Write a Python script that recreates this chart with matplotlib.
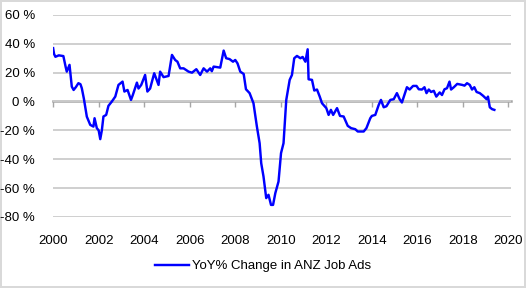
import matplotlib
matplotlib.use("Agg")
import matplotlib.pyplot as plt

plt.rcParams['font.family'] = ['Liberation Sans', 'DejaVu Sans']

# decimal year, YoY % change
years = [2000.00, 2000.04, 2000.10, 2000.25, 2000.45, 2000.55, 2000.60, 2000.72, 2000.82, 2000.90,
         2001.00, 2001.11, 2001.20, 2001.26, 2001.35, 2001.48, 2001.63, 2001.77, 2001.82, 2001.92,
         2002.00, 2002.07, 2002.14, 2002.21, 2002.33, 2002.43, 2002.58, 2002.73, 2002.87, 2003.05,
         2003.13, 2003.27, 2003.42, 2003.50, 2003.68, 2003.75, 2003.87, 2004.04, 2004.14, 2004.26,
         2004.44, 2004.63, 2004.70, 2004.85, 2005.07, 2005.22, 2005.36, 2005.46, 2005.58, 2005.73,
         2005.95, 2006.10, 2006.29, 2006.46, 2006.61, 2006.76, 2006.90, 2006.97, 2007.05, 2007.34,
         2007.49, 2007.60, 2007.75, 2007.90, 2008.00, 2008.10, 2008.22, 2008.37, 2008.47, 2008.63,
         2008.80, 2008.95, 2009.07, 2009.14, 2009.24, 2009.36, 2009.46, 2009.57, 2009.66, 2009.76,
         2009.90, 2010.01, 2010.12, 2010.24, 2010.39, 2010.49, 2010.59, 2010.71, 2010.86, 2010.96,
         2011.08, 2011.18, 2011.22, 2011.37, 2011.47, 2011.59, 2011.71, 2011.81, 2012.00, 2012.10,
         2012.20, 2012.30, 2012.47, 2012.60, 2012.76, 2012.94, 2013.09, 2013.27, 2013.38, 2013.64,
         2013.76, 2013.93, 2014.00, 2014.15, 2014.30, 2014.40, 2014.52, 2014.64, 2014.81, 2014.96,
         2015.10, 2015.22, 2015.32, 2015.54, 2015.66, 2015.81, 2015.96, 2016.06, 2016.20, 2016.31,
         2016.40, 2016.50, 2016.60, 2016.72, 2016.83, 2016.98, 2017.08, 2017.19, 2017.30, 2017.41,
         2017.48, 2017.60, 2017.75, 2017.97, 2018.07, 2018.18, 2018.30, 2018.40, 2018.50, 2018.60,
         2018.74, 2018.89, 2019.04, 2019.10, 2019.18, 2019.28, 2019.38]
yoy = [37.0, 33.0, 31.0, 32.0, 31.5, 24.0, 20.7, 25.4, 10.3, 8.0,
       10.0, 12.7, 12.0, 9.2, 2.0, -10.5, -16.2, -17.4, -11.6, -18.5,
       -20.0, -26.1, -20.0, -10.4, -9.3, -3.0, 0.0, 3.4, 11.5, 13.8,
       6.9, 8.0, 1.1, 4.5, 13.1, 9.0, 11.5, 18.4, 6.9, 9.0,
       19.6, 11.5, 20.7, 16.9, 17.7, 32.3, 28.8, 27.6, 23.0, 23.0,
       20.7, 20.0, 22.4, 18.4, 23.0, 20.7, 23.0, 21.0, 24.2, 23.5,
       35.3, 30.0, 29.4, 27.6, 28.8, 26.4, 20.7, 19.1, 8.5, 5.8,
       -1.2, -17.4, -28.9, -42.8, -52.0, -67.0, -64.7, -71.7, -71.7, -63.5,
       -55.5, -35.8, -28.9, 1.1, 15.0, 18.4, 30.0, 31.6, 30.0, 30.9,
       27.6, 36.2, 15.4, 15.0, 7.6, 8.3, 3.4, -1.2, -4.6, -9.3,
       -5.8, -9.3, -4.6, -10.0, -10.4, -16.9, -18.5, -19.2, -20.8, -20.8,
       -18.5, -11.6, -10.0, -9.3, -2.4, 1.1, -4.0, -3.3, 1.1, 1.6,
       5.8, 1.6, -0.7, 9.9, 8.3, 10.8, 10.8, 8.5, 8.3, 9.9,
       5.8, 8.3, 6.6, 7.4, 3.4, 6.3, 4.5, 8.5, 9.2, 13.8,
       8.3, 9.9, 12.2, 11.5, 11.0, 12.7, 11.5, 8.3, 9.9, 6.6,
       5.8, 3.9, 1.6, 3.4, -4.0, -5.3, -5.8]

x_ticks = list(range(2000, 2021, 2))
y_ticks = list(range(-80, 61, 20))

fig = plt.figure(figsize=(5.26, 2.88), dpi=100)
fig.patch.set_edgecolor('#d9d9d9')
fig.patch.set_linewidth(1.5)
ax = fig.add_axes([0.101, 0.247, 0.87, 0.701])

ax.plot(years, yoy, color='#0000ff', lw=1.75, label='YoY% Change in ANZ Job Ads', zorder=3)

ax.set_xlim(2000, 2020.1)
ax.set_ylim(-80, 60)
ax.set_yticks(y_ticks)
ax.set_yticklabels([f'{v} %' for v in y_ticks])
ax.set_xticks(x_ticks)
ax.set_xticklabels([str(v) for v in x_ticks])
ax.tick_params(axis='both', length=0, labelsize=9.5, colors='black')
ax.tick_params(axis='y', pad=13)
ax.tick_params(axis='x', pad=13)
for s in ax.spines.values():
    s.set_visible(False)
ax.grid(axis='y', color='#cccccc', lw=1.3)
ax.set_axisbelow(True)

# zero line with tick marks, like the category axis crossing at 0
zero = ax.secondary_xaxis(80 / 140)
zero.set_xticks(x_ticks)
zero.set_xticklabels([])
zero.tick_params(length=4, width=1, color='#a6a6a6', labeltop=False, labelbottom=False,
                 direction='in')
for s in zero.spines.values():
    s.set_color('#a6a6a6')
    s.set_linewidth(1.8)

fig.legend(loc='center', bbox_to_anchor=(0.5, 0.076), frameon=False,
           fontsize=9.5, handlelength=2.6, handletextpad=0.2)

fig.savefig('out.png', dpi=100)
